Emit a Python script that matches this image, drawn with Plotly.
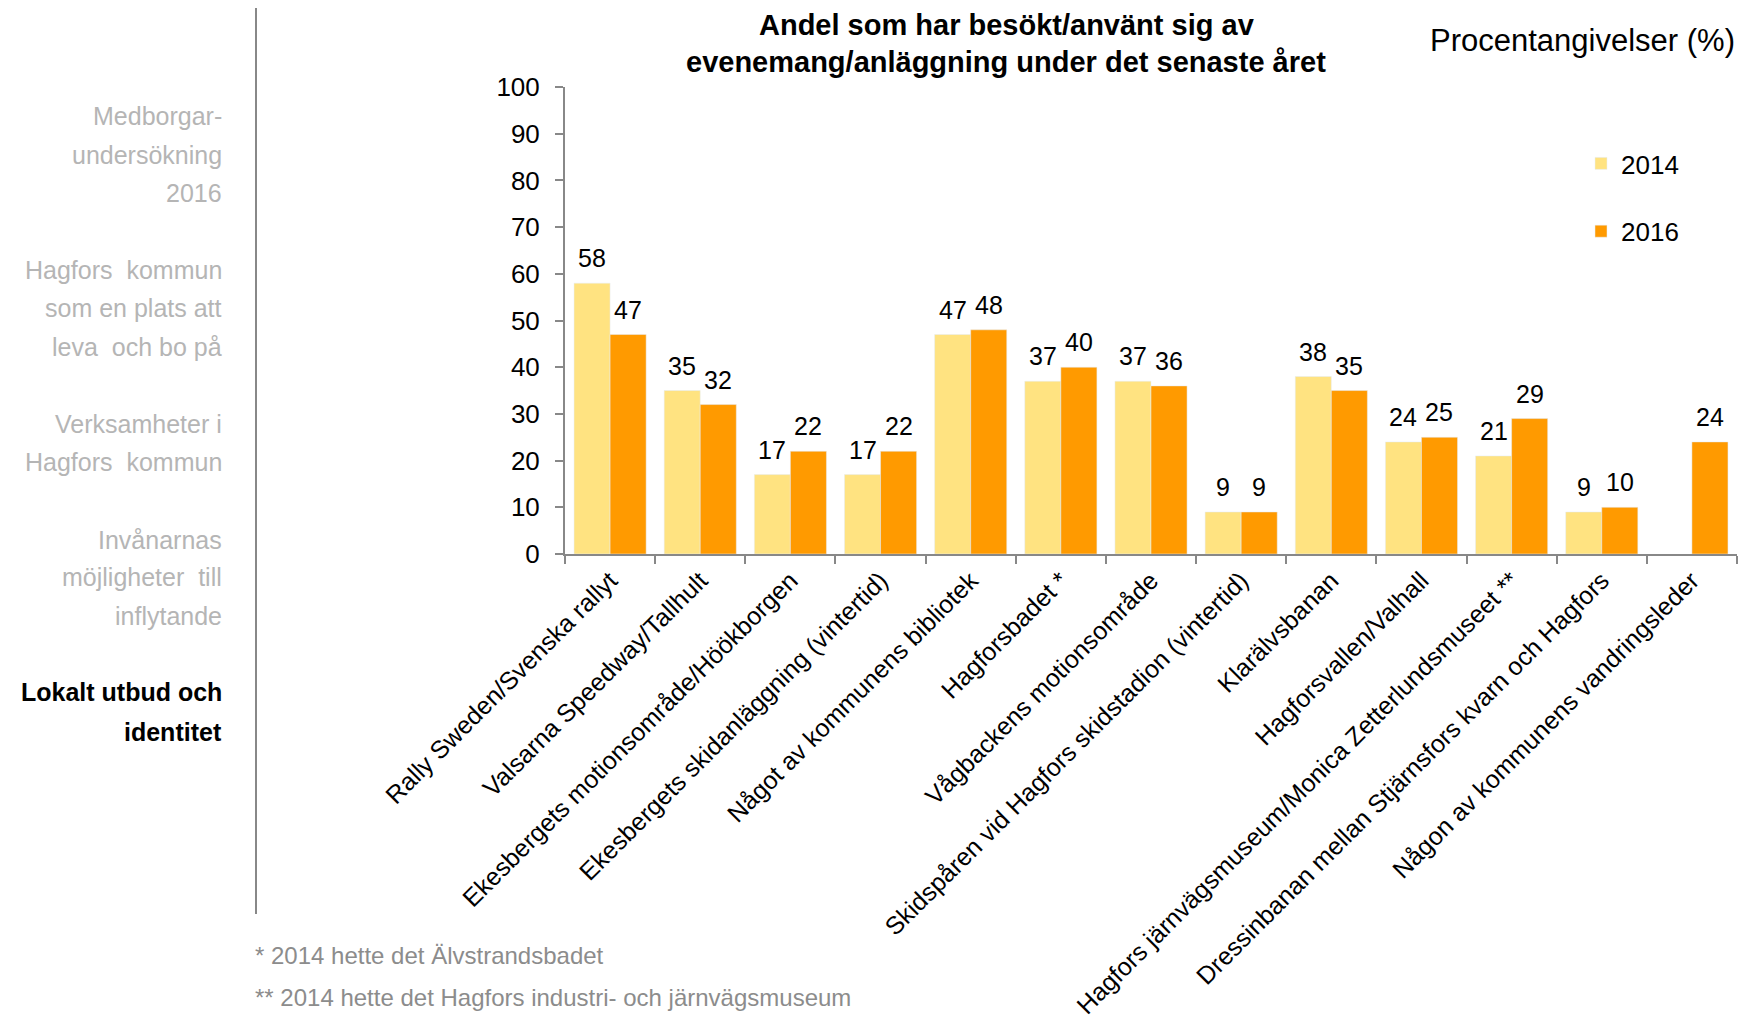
import plotly.graph_objects as go

# categories and values
categories = [
    "Rally Sweden/Svenska rallyt",
    "Valsarna Speedway/Tallhult",
    "Ekesbergets motionsområde/Höökborgen",
    "Ekesbergets skidanläggning (vintertid)",
    "Något av kommunens bibliotek",
    "Hagforsbadet *",
    "Vågbackens motionsområde",
    "Skidspåren vid Hagfors skidstadion (vintertid)",
    "Klarälvsbanan",
    "Hagforsvallen/Valhall",
    "Hagfors järnvägsmuseum/Monica Zetterlundsmuseet **",
    "Dressinbanan mellan Stjärnsfors kvarn och Hagfors",
    "Någon av kommunens vandringsleder",
]
values_2014 = [58, 35, 17, 17, 47, 37, 37, 9, 38, 24, 21, 9, None]
values_2016 = [47, 32, 22, 22, 48, 40, 36, 9, 35, 25, 29, 10, 24]

y_ticks = [0, 10, 20, 30, 40, 50, 60, 70, 80, 90, 100]

sidebar = [
    ("Medborgar-", False), ("undersökning", False), ("2016", False),
    ("Hagfors\u00a0 kommun", False), ("som en plats att", False), ("leva\u00a0 och bo på", False),
    ("Verksamheter i", False), ("Hagfors\u00a0 kommun", False),
    ("Invånarnas", False), ("möjligheter\u00a0 till", False), ("inflytande", False),
    ("Lokalt utbud och", True), ("identitet", True),
]
sidebar_y = [116, 155, 193, 270, 308, 347, 424, 462, 540, 577, 616, 692, 732]

footnotes = ["* 2014 hette det Älvstrandsbadet",
             "** 2014 hette det Hagfors industri- och järnvägsmuseum"]

FONT = "Liberation Sans, Arial, sans-serif"
OFF = 8  # page body margin
W, H = 1748, 1023
X_L, X_R, Y_T, Y_B = 565, 1737, 87, 554


# helpers: pixel position -> paper coords
def px_x(x):
    return (x - X_L) / (X_R - X_L)


def px_y(y):
    return (Y_B - y) / (Y_B - Y_T)


fig = go.Figure()
fig.add_trace(go.Bar(x=categories, y=values_2014, name="2014", marker_color="#FFE381",
                     legendgroup="a"))
fig.add_trace(go.Bar(x=categories, y=values_2016, name="2016", marker_color="#FF9A00",
                     legendgroup="b"))

annotations = []

# value labels above bars
for vals, shift in [(values_2014, -18), (values_2016, 18)]:
    for cat, v in zip(categories, vals):
        if v is None:
            continue
        annotations.append(dict(text=str(v), x=cat, y=v, xref="x", yref="y", showarrow=False,
                                xanchor="center", yanchor="middle", xshift=shift, yshift=25,
                                font=dict(size=25, color="black", family=FONT)))

annotations.append(dict(text="<b>Andel som har besökt/använt sig av</b>", x=px_x(1006), y=px_y(25),
                        xref="paper", yref="paper", showarrow=False, xanchor="center", yanchor="middle",
                        font=dict(size=29, color="black", family=FONT)))
annotations.append(dict(text="<b>evenemang/anläggning under det senaste året</b>", x=px_x(1006), y=px_y(62),
                        xref="paper", yref="paper", showarrow=False, xanchor="center", yanchor="middle",
                        font=dict(size=29, color="black", family=FONT)))
annotations.append(dict(text="Procentangivelser (%)", x=px_x(1737), y=px_y(41),
                        xref="paper", yref="paper", showarrow=False, xanchor="right", yanchor="middle",
                        font=dict(size=31, color="black", family=FONT)))

for (txt, bold), yy in zip(sidebar, sidebar_y):
    annotations.append(dict(text=f"<b>{txt}</b>" if bold else txt, x=px_x(224), y=px_y(yy),
                            xref="paper", yref="paper", showarrow=False, xanchor="right", yanchor="middle",
                            font=dict(size=25, color="black" if bold else "#B5B5B5", family=FONT)))

for txt, yy in zip(footnotes, [955, 997]):
    annotations.append(dict(text=txt, x=px_x(253), y=px_y(yy),
                            xref="paper", yref="paper", showarrow=False, xanchor="left", yanchor="middle",
                            font=dict(size=24, color="#8C8C8C", family=FONT)))

fig.update_layout(
    width=W - OFF, height=H - OFF,
    margin=dict(l=X_L - OFF, r=W - X_R, t=Y_T - OFF, b=H - Y_B, autoexpand=False),
    paper_bgcolor="white", plot_bgcolor="white",
    barmode="group", bargap=0.2, bargroupgap=0,
    font=dict(family=FONT, size=24, color="black"),
    showlegend=True,
    legend=dict(x=px_x(1581), y=px_y(140), xanchor="left", yanchor="top",
                font=dict(size=26, family=FONT), tracegroupgap=31,
                bgcolor="rgba(0,0,0,0)"),
    annotations=annotations,
    shapes=[dict(type="line", xref="paper", yref="paper", x0=px_x(256), x1=px_x(256),
                 y0=px_y(6), y1=px_y(914), line=dict(color="#888888", width=2))],
)
fig.update_yaxes(range=[0, 100], tickvals=y_ticks, showgrid=False, zeroline=False,
                 showline=True, linecolor="#888888", linewidth=2,
                 ticks="outside", ticklen=8, tickcolor="#888888", tickwidth=2,
                 ticklabelstandoff=10,
                 tickfont=dict(size=26, family=FONT, color="black"))
fig.update_xaxes(showline=True, linecolor="#888888", linewidth=2,
                 ticks="outside", tickson="boundaries", ticklen=8, tickcolor="#888888", tickwidth=2,
                 tickangle=-45, tickfont=dict(size=25, family=FONT, color="black"))

fig.write_html("out.html")
